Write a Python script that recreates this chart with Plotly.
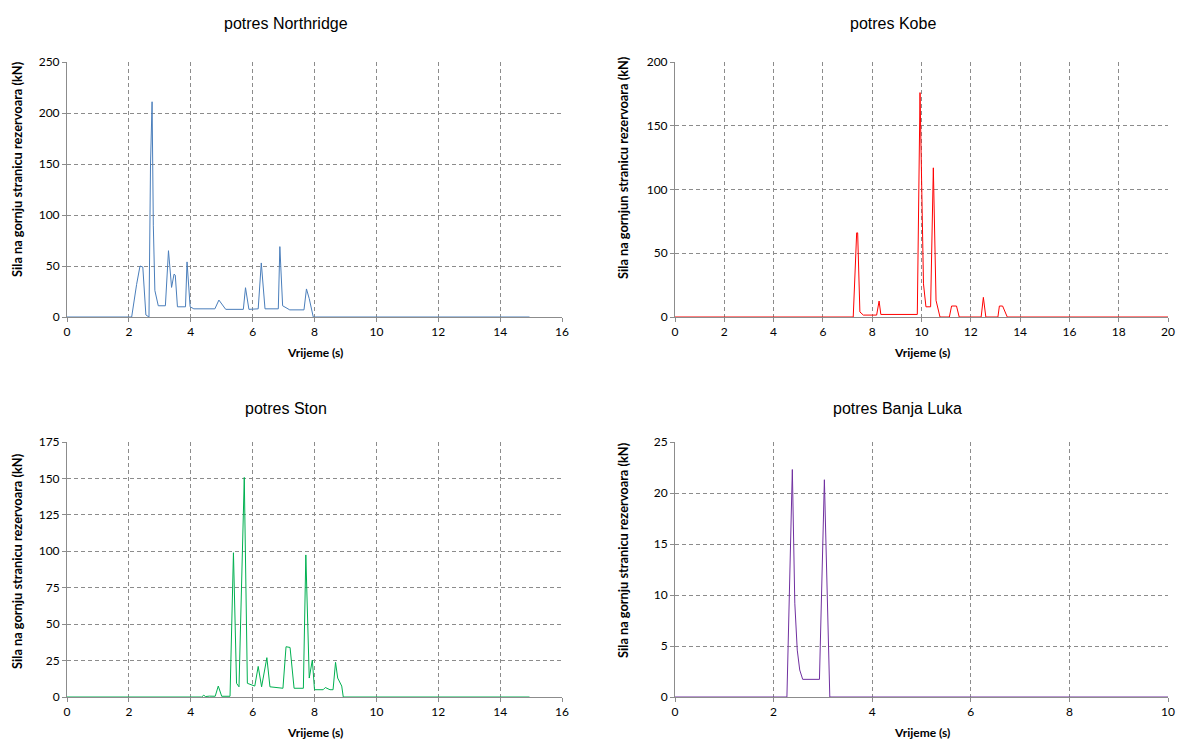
import plotly.graph_objects as go

# ---------------- data ----------------
northridge_t = [0, 2.09, 2.25, 2.36, 2.45, 2.55, 2.65, 2.70, 2.75, 2.79, 2.84, 2.95, 3.18, 3.28, 3.38, 3.46,
                3.50, 3.57, 3.83, 3.88, 3.98, 4.10, 4.78, 4.91, 5.13, 5.70, 5.77, 5.88, 6.18, 6.28, 6.40,
                6.83, 6.88, 6.97, 7.20, 7.66, 7.74, 7.83, 7.96, 14.95]
northridge_v = [0, 0, 32, 50, 49, 2, 0, 150, 211, 90, 26, 11, 11, 65, 29, 42,
                41, 10, 10, 54, 10, 8, 8, 16.6, 7.5, 7.5, 28.7, 7.5, 8, 53, 8,
                8, 69, 11, 7, 7, 27.5, 18, 0, 0]

kobe_t = [0, 7.23, 7.37, 7.41, 7.50, 7.64, 8.18, 8.28, 8.35, 9.83, 9.94, 10.08, 10.18, 10.37, 10.48,
          10.59, 10.75, 11.13, 11.22, 11.42, 11.53, 12.42, 12.51, 12.61, 13.10, 13.16, 13.29, 13.48, 20]
kobe_v = [0, 0, 66, 66, 4, 1.5, 1.5, 12.5, 2, 2, 176, 26, 8, 8, 117,
          13, 0, 0, 8.6, 8.6, 0, 0, 15.4, 0, 0, 8.6, 8.6, 0, 0]

ston_t = [0, 4.35, 4.42, 4.48, 4.60, 4.70, 4.79, 4.89, 5.00, 5.27, 5.38, 5.48, 5.56, 5.73, 5.83, 6.07,
          6.18, 6.29, 6.46, 6.56, 6.72, 6.98, 7.08, 7.21, 7.34, 7.64, 7.72, 7.83, 7.93, 8.00, 8.28,
          8.35, 8.50, 8.60, 8.68, 8.75, 8.88, 8.93, 14.95]
ston_v = [0, 0, 1.2, 0.3, 0.6, 0.5, 0.5, 7.5, 0.5, 0.5, 99, 9.4, 7, 150.7, 9.4, 7.5,
          21, 7, 27, 7, 6.5, 6, 34.5, 34, 6, 6, 97.5, 13, 25.4, 5, 5,
          6.5, 5, 5, 23.8, 13, 7.5, 0, 0]

banja_t = [0, 2.27, 2.38, 2.43, 2.48, 2.53, 2.59, 2.93, 3.03, 3.14, 10]
banja_v = [0, 0, 22.3, 9.2, 4.6, 2.65, 1.73, 1.73, 21.3, 0, 0]

titles = ["potres Northridge", "potres Kobe", "potres Ston", "potres Banja Luka"]
x_title = "Vrijeme (s)"
y_titles = ["Sila na gornju stranicu rezervoara (kN)",
            "Sila na gornjun stranicu rezervoara (kN)",
            "Sila na gornju stranicu rezervoara (kN)",
            "Sila na gornju stranicu rezervoara (kN)"]

x_ranges = [(0, 16, 2), (0, 20, 2), (0, 16, 2), (0, 10, 2)]
y_ranges = [(0, 250, 50), (0, 200, 50), (0, 175, 25), (0, 25, 5)]
colors = ["#4A7EBB", "#FF0000", "#00B050", "#7030A0"]

# ---------------- layout geometry (pixels) ----------------
W, H = 1177, 740
boxes = [(67, 562, 62, 317), (675, 1168, 62, 317), (67, 562, 442, 697), (675, 1168, 442, 697)]
title_pos = [(286, 23), (893, 23), (286, 408), (897, 408)]
ytitle_pos = [(17, 169), (623, 168), (17, 561), (623, 550)]

fig = go.Figure()
series = [(northridge_t, northridge_v), (kobe_t, kobe_v), (ston_t, ston_v), (banja_t, banja_v)]
grid_col = "#8C8C8C"
tick_font = dict(family="Lato, Calibri, sans-serif", size=12, color="#000000")

annotations = []
for i, ((t, v), col) in enumerate(zip(series, colors)):
    n = "" if i == 0 else str(i + 1)
    fig.add_trace(go.Scatter(x=t, y=v, mode="lines", line=dict(color=col, width=1),
                             xaxis="x" + n, yaxis="y" + n, showlegend=False, hoverinfo="x+y"))
    x0, x1, y0, y1 = boxes[i]
    xr, yr = x_ranges[i], y_ranges[i]
    fig.layout["xaxis" + n] = dict(
        domain=[x0 / W, x1 / W], range=[xr[0], xr[1]], dtick=xr[2], tick0=0,
        anchor="y" + n, showgrid=True, gridcolor=grid_col, griddash="4px,3px", gridwidth=1,
        showline=True, linecolor=grid_col, linewidth=1, zeroline=False, automargin=False,
        ticks="outside", ticklen=4, tickcolor=grid_col, tickfont=tick_font, fixedrange=True)
    fig.layout["yaxis" + n] = dict(
        domain=[1 - y1 / H, 1 - y0 / H], range=[yr[0], yr[1]], dtick=yr[2], tick0=0,
        anchor="x" + n, showgrid=True, gridcolor=grid_col, griddash="4px,3px", gridwidth=1,
        showline=True, linecolor=grid_col, linewidth=1, zeroline=False, automargin=False,
        ticks="outside", ticklen=4, tickcolor=grid_col, tickfont=tick_font, fixedrange=True)
    # chart title
    tx, ty = title_pos[i]
    annotations.append(dict(text=titles[i], x=tx / W, y=1 - ty / H, xref="paper", yref="paper",
                            xanchor="center", yanchor="middle", showarrow=False,
                            font=dict(family="Liberation Sans, Arial, sans-serif", size=16, color="#000")))
    # x axis title
    annotations.append(dict(text="<b>" + x_title + "</b>", x=(x0 + x1) / 2 / W, y=1 - (y1 + 35) / H,
                            xref="paper", yref="paper", xanchor="center", yanchor="middle",
                            showarrow=False, font=dict(family="Lato, Calibri, sans-serif", size=12, color="#000")))
    # y axis title
    yx, yy = ytitle_pos[i]
    annotations.append(dict(text="<b>" + y_titles[i] + "</b>", x=yx / W, y=1 - yy / H,
                            xref="paper", yref="paper", xanchor="center", yanchor="middle", textangle=-90,
                            showarrow=False, font=dict(family="Lato, Calibri, sans-serif", size=12.8, color="#000")))

fig.update_layout(width=W, height=H, autosize=False, margin=dict(l=0, r=0, t=0, b=0, pad=0),
                  paper_bgcolor="white", plot_bgcolor="white", annotations=annotations)

fig.write_html("out.html", config={"displayModeBar": False})

# remove the default page margin so the figure sits at the window's top-left corner
with open("out.html", "r", encoding="utf-8") as f:
    html = f.read()
html = html.replace("<head>", "<head><style>html,body{margin:0;padding:0;overflow:hidden;}</style>", 1)
with open("out.html", "w", encoding="utf-8") as f:
    f.write(html)
